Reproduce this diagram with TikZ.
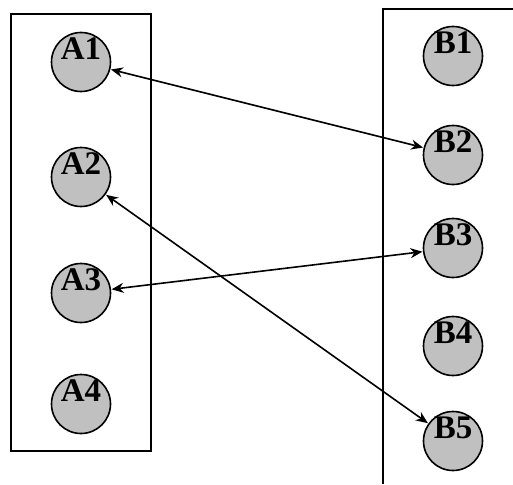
\documentclass[tikz,border=0pt]{standalone}
\usepackage{fontspec}
\setmainfont{Liberation Serif}
\usetikzlibrary{arrows.meta}
\definecolor{ballgray}{RGB}{192,192,192}
\tikzset{
  ball/.style={circle, draw, line width=1.6pt, fill=ballgray, minimum size=59pt, inner sep=0pt},
  tag/.style={font=\fontsize{33}{33}\selectfont\bfseries, yshift=13pt},
  link/.style={line width=1.6pt, {Stealth[length=12pt,width=10pt]}-{Stealth[length=12pt,width=10pt]}, shorten <=0.5pt, shorten >=0.5pt},
}
\begin{document}
\begin{tikzpicture}[x=1pt, y=-1pt]
    \useasboundingbox (0,0) rectangle (513,484);
    % the two sets
    \draw[line width=1.8pt] (11,14) rectangle (151,451);
    \draw[line width=1.8pt] (383,484) -- (383,9) -- (513,9);
    % set A
    \node[ball] (A1) at (81,62) {};
    \node[ball] (A2) at (81,177) {};
    \node[ball] (A3) at (81,293) {};
    \node[ball] (A4) at (81,404) {};
    % set B
    \node[ball] (B1) at (453,56) {};
    \node[ball] (B2) at (453,155) {};
    \node[ball] (B3) at (453,248) {};
    \node[ball] (B4) at (453,346) {};
    \node[ball] (B5) at (453,441) {};
    \foreach \n in {A1,A2,A3,A4,B1,B2,B3,B4,B5}
        \node[tag] at (\n) {\n};
    % pairs
    \draw[link] (A1) -- (B2);
    \draw[link] (A2) -- (B5);
    \draw[link] (A3) -- (B3);
\end{tikzpicture}
\end{document}
